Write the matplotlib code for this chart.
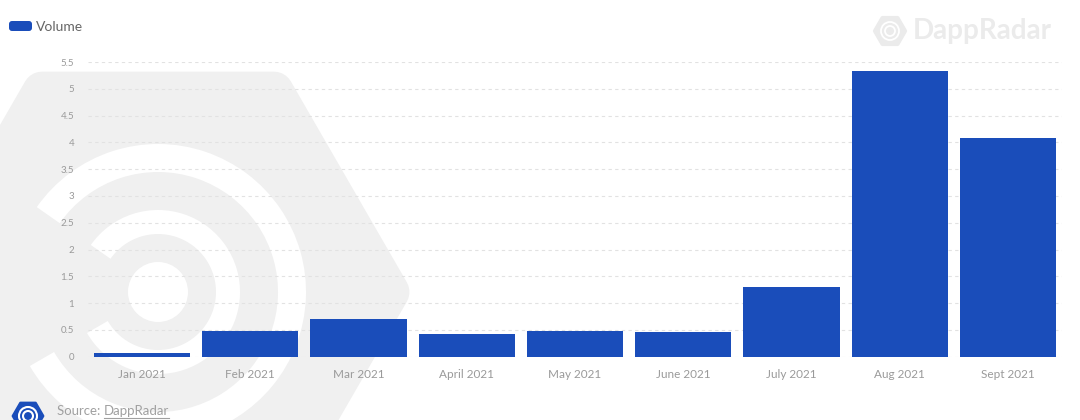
import matplotlib
matplotlib.use("Agg")
import matplotlib.pyplot as plt
import matplotlib.patches as mpatches
import matplotlib.transforms as mtransforms
import numpy as np

months = ["Jan 2021", "Feb 2021", "Mar 2021", "April 2021", "May 2021",
          "June 2021", "July 2021", "Aug 2021", "Sept 2021"]
volume = [0.075, 0.48, 0.70, 0.42, 0.48, 0.46, 1.31, 5.34, 4.08]
y_ticks = [0, 0.5, 1, 1.5, 2, 2.5, 3, 3.5, 4, 4.5, 5, 5.5]
y_tick_labels = ["0", "0.5", "1", "1.5", "2", "2.5", "3", "3.5", "4", "4.5", "5", "5.5"]
series_name = "Volume"

BAR = "#1a4dba"
W, H = 1080, 420
plt.rcParams['font.family'] = ['Lato', 'DejaVu Sans']

fig = plt.figure(figsize=(W / 100, H / 100), dpi=100, facecolor="white")
# pixel transform (origin top-left)
px = mtransforms.Affine2D().scale(1 / W, -1 / H).translate(0, 1) + fig.transFigure

# --- background watermark (hexagon with rings) ---
wm = "#f0f0f0"
cx, cy, R = 158, 292, 232
ang = np.deg2rad(np.arange(0, 360, 60))
hexpts = np.column_stack([cx + R * np.cos(ang), cy + R * np.sin(ang)])
fig.add_artist(mpatches.Polygon(hexpts, closed=True, facecolor=wm, edgecolor=wm,
                                linewidth=28, joinstyle="round", transform=px, zorder=-5))
for r_out, r_in in [(148, 120), (82, 58)]:
    fig.add_artist(mpatches.Wedge((cx, cy), r_out, 215, 150, width=r_out - r_in,
                                  facecolor="white", edgecolor="none", transform=px, zorder=-4))
fig.add_artist(mpatches.Circle((cx, cy), 30, facecolor="white", edgecolor="none",
                               transform=px, zorder=-4))

# --- axes ---
left, right = 88 / W, 1062 / W
bottom = 1 - 356.7 / H
top = 1 - 62 / H
ax = fig.add_axes([left, bottom, right - left, top - bottom])
ax.patch.set_alpha(0)

x = np.arange(len(months))
ax.bar(x, volume, width=0.89, color=BAR, zorder=3, label=series_name)
ax.set_xlim(-0.5, len(months) - 0.5)
ax.set_ylim(0, 5.5)
ax.set_yticks(y_ticks)
ax.set_yticklabels(y_tick_labels)
ax.set_xticks(x)
ax.set_xticklabels(months)
ax.tick_params(axis="y", length=0, pad=10, labelsize=7, labelcolor="#9a9a9a")
ax.tick_params(axis="x", length=0, pad=9, labelsize=8.5, labelcolor="#9a9a9a")
for s in ax.spines.values():
    s.set_visible(False)
ax.grid(axis="y", linestyle=(0, (3, 3)), color="#e2e2e2", linewidth=0.8, zorder=0)
ax.set_axisbelow(True)

# --- legend ---
fig.add_artist(mpatches.FancyBboxPatch((9, 21), 23, 10, boxstyle="round,pad=0,rounding_size=3",
                                       facecolor=BAR, edgecolor="none", transform=px))
fig.text(36 / W, 1 - 27 / H, series_name, fontsize=10, color="#666666", va="center", ha="left")

# --- DappRadar watermark top right ---
fig.text(1052 / W, 1 - 31 / H, "DappRadar", fontsize=20, color="#ebebeb", va="center",
         ha="right", fontweight="bold")
hx, hy, hr = 890, 31, 15
hp = np.column_stack([hx + hr * np.cos(ang), hy + hr * np.sin(ang)])
fig.add_artist(mpatches.Polygon(hp, closed=True, facecolor="#ebebeb", edgecolor="#ebebeb",
                                linewidth=3, joinstyle="round", transform=px))
for r in (9, 5):
    fig.add_artist(mpatches.Circle((hx, hy), r, facecolor="none", edgecolor="white",
                                   linewidth=1.3, transform=px))

# --- source ---
sx, sy, sr = 28, 416, 15
sp = np.column_stack([sx + sr * np.cos(ang), sy + sr * np.sin(ang)])
fig.add_artist(mpatches.Polygon(sp, closed=True, facecolor=BAR, edgecolor=BAR,
                                linewidth=2, joinstyle="round", transform=px))
for r in (9, 5):
    fig.add_artist(mpatches.Circle((sx, sy), r, facecolor="none", edgecolor="white",
                                   linewidth=1.5, transform=px))
src = fig.text(57 / W, 1 - 411 / H, "Source: ", fontsize=9.5, color="#a0a0a0",
               va="center", ha="left")
fig.canvas.draw()
bb = src.get_window_extent()
x0 = bb.x1 / W
link = fig.text(x0, 1 - 411 / H, "DappRadar", fontsize=9.5, color="#a0a0a0",
                va="center", ha="left")
fig.canvas.draw()
lb = link.get_window_extent()
fig.add_artist(plt.Line2D([lb.x0 / W, lb.x1 / W], [1 - 418 / H, 1 - 418 / H], color="#a0a0a0",
                          linewidth=0.8, transform=fig.transFigure))

fig.savefig("out.png", dpi=100, facecolor="white")
